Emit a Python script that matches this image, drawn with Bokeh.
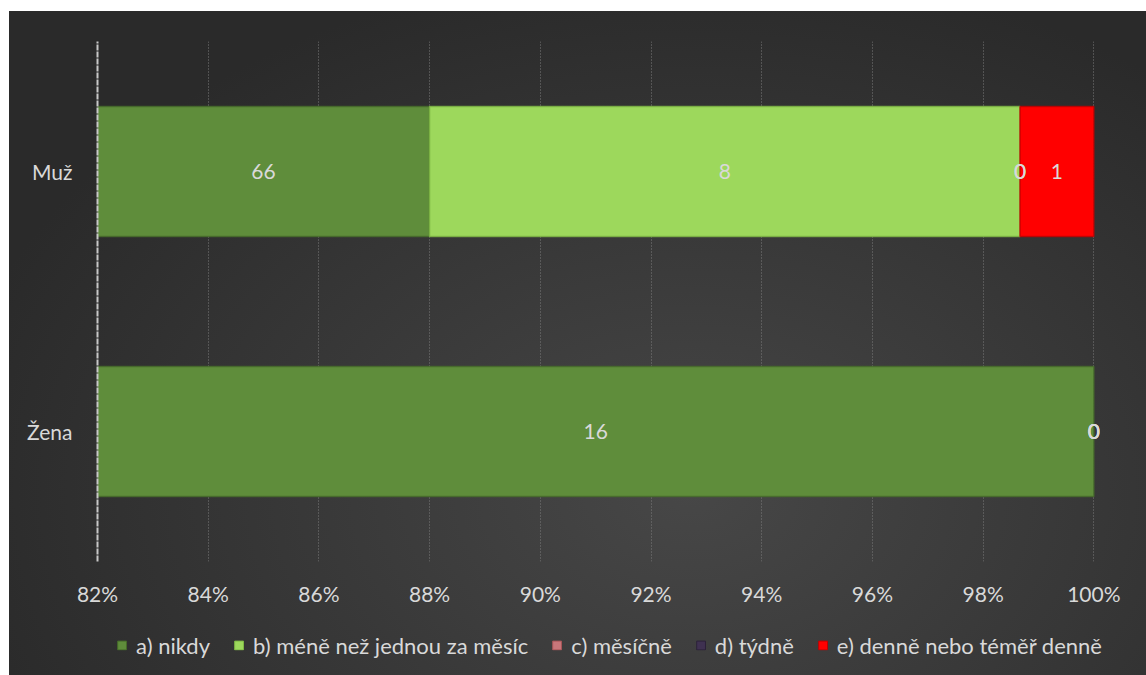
import numpy as np
from bokeh.plotting import figure
from bokeh.layouts import column
from bokeh.core.properties import value
from bokeh.models import (ColumnDataSource, FixedTicker, NumeralTickFormatter,
                          Legend, LegendItem, LabelSet)
from bokeh.embed import file_html
from bokeh.resources import INLINE

categories = ["Žena", "Muž"]
series = ["a) nikdy", "b) méně než jednou za měsíc", "c) měsíčně", "d) týdně",
          "e) denně nebo téměř denně"]
a_nikdy = [16, 66]
b_mene = [0, 8]
c_mesicne = [0, 0]
d_tydne = [0, 0]
e_denne = [0, 1]
colors = ["#5f8d3b", "#9dd85c", "#c9767a", "#3f3151", "#ff0000"]
edge_colors = ["#466b2a", "#7fb845", "#a85558", "#2c2239", "#c00000"]
x_ticks = [0.82, 0.84, 0.86, 0.88, 0.90, 0.92, 0.94, 0.96, 0.98, 1.00]
x_min, x_max = 0.82, 1.005

values = np.array([a_nikdy, b_mene, c_mesicne, d_tydne, e_denne], dtype=float)
totals = values.sum(axis=0)
shares = values / totals
rights = np.cumsum(shares, axis=0)
lefts = rights - shares

FONT = "Lato"
TXT = "#d9d9d9"

p = figure(width=1137, height=600, y_range=categories,
           x_range=(x_min, x_max),
           output_backend="svg", toolbar_location=None,
           min_border_left=88, min_border_right=13, min_border_top=30,
           min_border_bottom=50)
p.border_fill_color = None
p.background_fill_color = None
p.outline_line_color = None

sources = []
for i, name in enumerate(series):
    src = ColumnDataSource(dict(y=categories, left=lefts[i], right=rights[i],
                                la=np.where(values[i] > 0, 0.8, 0.0)))
    sources.append(src)
    p.hbar(y="y", left="left", right="right", height=0.5, source=src,
           fill_color=colors[i], line_color=edge_colors[i],
           line_width=1.5, line_alpha="la")

label_x, label_y, label_t = [], [], []
for i in range(len(series)):
    for j, cat in enumerate(categories):
        l = max(lefts[i][j], 0.82)
        label_x.append((l + rights[i][j]) / 2)
        label_y.append(cat)
        label_t.append(f"{int(values[i][j])}")

lab_src = ColumnDataSource(dict(x=label_x, y=label_y, t=label_t))
labels = LabelSet(x="x", y="y", text="t", source=lab_src, text_align="center",
                  text_baseline="middle", text_color=TXT, text_font=value(FONT),
                  text_font_size=value("21px"))
p.add_layout(labels)

p.xaxis.ticker = FixedTicker(ticks=x_ticks)
p.xaxis.formatter = NumeralTickFormatter(format="0%")
p.xaxis.axis_line_color = None
p.xaxis.major_tick_line_color = None
p.xaxis.major_tick_out = 0
p.xaxis.major_tick_in = 0
p.xaxis.minor_tick_line_color = None
p.xaxis.major_label_text_color = TXT
p.xaxis.major_label_text_font = FONT
p.xaxis.major_label_text_font_size = "21px"
p.xaxis.major_label_standoff = 19

p.yaxis.axis_line_color = "#c8c8c8"
p.yaxis.axis_line_width = 2
p.yaxis.axis_line_dash = "6 1"
p.yaxis.major_tick_line_color = None
p.yaxis.major_tick_out = 0
p.yaxis.major_tick_in = 0
p.yaxis.minor_tick_line_color = None
p.yaxis.major_label_text_color = TXT
p.yaxis.major_label_text_font = FONT
p.yaxis.major_label_text_font_size = "21px"
p.yaxis.major_label_standoff = 25

p.xgrid.ticker = FixedTicker(ticks=x_ticks)
p.xgrid.grid_line_color = "#7a7a7a"
p.xgrid.grid_line_dash = "1 2"
p.xgrid.grid_line_width = 1
p.ygrid.grid_line_color = None

# legend strip below the chart
lf = figure(width=1137, height=68, output_backend="svg", toolbar_location=None,
            x_axis_location=None, y_axis_location=None,
            min_border=0, min_border_left=0, min_border_right=25,
            x_range=(x_min, x_max), y_range=categories)
lf.border_fill_color = None
lf.background_fill_color = None
lf.outline_line_color = None
lf.grid.grid_line_color = None
items = []
for i, name in enumerate(series):
    r = lf.hbar(y="y", left="left", right="right", height=0.5,
                source=ColumnDataSource(dict(sources[i].data)),
                fill_color=colors[i], line_color=edge_colors[i], line_width=1)
    r.visible = False
    items.append(LegendItem(label=name, renderers=[r]))
legend = Legend(items=items, orientation="horizontal", location="center",
                background_fill_alpha=0, border_line_color=None,
                inactive_fill_alpha=0,
                label_text_color=TXT, label_text_font=FONT,
                label_text_font_size="22px", glyph_width=11, glyph_height=11,
                label_standoff=9, spacing=23, padding=0, margin=0)
lf.add_layout(legend, "center")

layout = column(p, lf, spacing=0)
layout.margin = (11, 0, 0, 9)
layout.styles = {"background": "radial-gradient(ellipse at 60% 72%, #474747 0%, #3a3a3a 35%, #2a2a2a 78%)"}

open("out.html", "w").write(file_html(layout, INLINE))
